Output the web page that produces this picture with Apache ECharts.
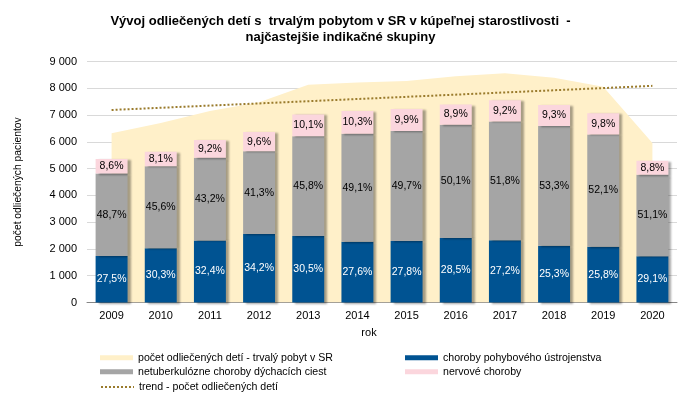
<!DOCTYPE html>
<html>
<head>
<meta charset="utf-8">
<script src="https://cdn.jsdelivr.net/npm/echarts@6/dist/echarts.min.js"></script>
<style>html,body{margin:0;padding:0;background:#fff;}#c{width:681px;height:406px;}</style>
</head>
<body>
<div id="c"></div>
<script>
var years = ['2009','2010','2011','2012','2013','2014','2015','2016','2017','2018','2019','2020'];
var totalChildren = [6320, 6700, 7150, 7480, 8130, 8220, 8270, 8450, 8560, 8390, 8060, 5960];
var musculoskeletal = [1738, 2030, 2317, 2558, 2480, 2269, 2299, 2408, 2328, 2123, 2079, 1731];
var respiratory = [3078, 3055, 3089, 3089, 3724, 4036, 4110, 4233, 4434, 4472, 4199, 3040];
var nervous = [544, 543, 658, 718, 821, 847, 819, 752, 788, 780, 790, 524];
var pctMusculo = ['27,5%','30,3%','32,4%','34,2%','30,5%','27,6%','27,8%','28,5%','27,2%','25,3%','25,8%','29,1%'];
var pctResp = ['48,7%','45,6%','43,2%','41,3%','45,8%','49,1%','49,7%','50,1%','51,8%','53,3%','52,1%','51,1%'];
var pctNerv = ['8,6%','8,1%','9,2%','9,6%','10,1%','10,3%','9,9%','8,9%','9,2%','9,3%','9,8%','8,8%'];
var trend = [7190, null, null, null, null, null, null, null, null, null, null, 8090];

var names = {
  area: 'počet odliečených detí - trvalý pobyt v SR',
  musc: 'choroby pohybového ústrojenstva',
  resp: 'netuberkulózne choroby dýchacích ciest',
  nerv: 'nervové choroby',
  trend: 'trend - počet odliečených detí'
};
var C = {area:'#FFF0C9', musc:'#005392', resp:'#A5A5A5', nerv:'#FBD6DD', trend:'#9A7B2C'};
var font = '"Liberation Sans", Arial, sans-serif';
var shadow = {shadowColor:'rgba(0,0,0,0.35)', shadowBlur:2, shadowOffsetX:3, shadowOffsetY:1};

function lbl(arr, color){
  return {show:true, position:'inside', color:color, fontFamily:font, fontSize:10.5,
    formatter:function(p){return arr[p.dataIndex];}};
}
function leg(item, left, centerY){
  return {orient:'horizontal', left:left, top:centerY-6, itemWidth:33, itemHeight:5, itemGap:0,
    padding:0, textStyle:{fontFamily:font, fontSize:10.6, color:'#000', lineHeight:12},
    data:[item]};
}

var chart = echarts.init(document.getElementById('c'), null, {renderer:'canvas'});
chart.setOption({
  animation:false,
  title:{
    text:'Vývoj odliečených detí s  trvalým pobytom v SR v kúpeľnej starostlivosti  -\nnajčastejšie indikačné skupiny',
    left:'center', top:13, padding:0,
    textStyle:{fontFamily:font, fontWeight:'bold', fontSize:13, lineHeight:16.5, color:'#000'}
  },
  grid:{left:87, right:4, top:61.5, bottom:103.5},
  legend:[
    leg({name:names.area, icon:'rect', itemStyle:{color:C.area}}, 100, 357.7),
    leg({name:names.resp, icon:'rect'}, 100, 371.7),
    leg({name:names.trend, itemStyle:{opacity:0}, lineStyle:{color:C.trend, width:2, type:[2,2], opacity:1}}, 100, 387),
    leg({name:names.musc, icon:'rect'}, 405, 357.7),
    leg({name:names.nerv, icon:'rect'}, 405, 371.7)
  ],
  xAxis:{
    type:'category', data:years, boundaryGap:true,
    name:'rok', nameLocation:'middle', nameGap:25,
    nameTextStyle:{fontFamily:font, fontSize:11, color:'#000', padding:[0,26,0,0]},
    axisLine:{lineStyle:{color:'#868686', width:1}},
    axisTick:{show:false},
    axisLabel:{fontFamily:font, fontSize:11, color:'#000', margin:8}
  },
  yAxis:{
    type:'value', min:0, max:9000, interval:1000,
    name:'počet odliečených pacientov', nameLocation:'middle', nameGap:64, nameRotate:90,
    nameTextStyle:{fontFamily:font, fontSize:10.3, color:'#000'},
    axisLine:{show:false}, axisTick:{show:false},
    splitLine:{lineStyle:{color:'#D9D9D9'}},
    axisLabel:{fontFamily:font, fontSize:11, color:'#000', margin:10,
      formatter:function(v){return v>=1000 ? Math.floor(v/1000)+' '+String(v%1000).padStart(3,'0') : String(v);}}
  },
  series:[
    {name:names.area, type:'line', data:totalChildren, symbol:'none', z:1,
     lineStyle:{width:0, color:C.area}, itemStyle:{color:C.area},
     areaStyle:{color:C.area, opacity:1}},
    {name:names.musc, type:'bar', stack:'s', data:musculoskeletal, barWidth:'65%', z:3,
     itemStyle:Object.assign({color:C.musc}, shadow), label:lbl(pctMusculo,'#fff')},
    {name:names.resp, type:'bar', stack:'s', data:respiratory, z:3,
     itemStyle:Object.assign({color:C.resp}, shadow), label:lbl(pctResp,'#000')},
    {name:names.nerv, type:'bar', stack:'s', data:nervous, z:3,
     itemStyle:Object.assign({color:C.nerv}, shadow), label:lbl(pctNerv,'#000')},
    {name:names.trend, type:'line', data:trend, connectNulls:true, symbol:'none', z:4,
     lineStyle:{color:C.trend, width:2, type:[2,2]}, itemStyle:{color:C.trend}}
  ]
});
</script>
</body>
</html>
